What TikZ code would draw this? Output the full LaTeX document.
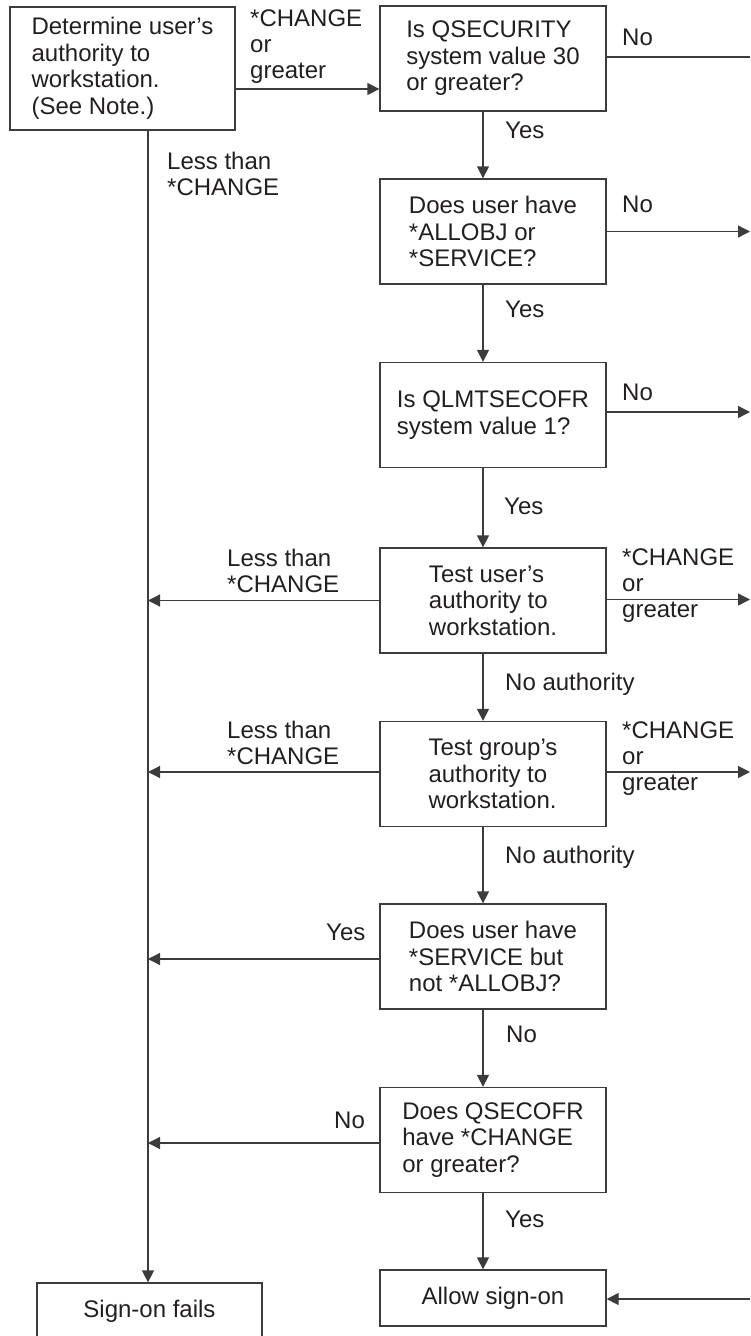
\documentclass[tikz,border=0pt]{standalone}
\usepackage{fontspec}
\setmainfont{Liberation Sans}
\usetikzlibrary{arrows.meta}
\definecolor{linec}{HTML}{3C3C3C}
\definecolor{textc}{HTML}{231F20}
\begin{document}
\begin{tikzpicture}[x=1pt,y=-1pt,
  every node/.style={font=\fontsize{24}{26.5}\selectfont, text=textc, inner sep=0pt},
  box/.style={draw=linec, line width=1.3pt, minimum width=226pt, minimum height=105pt, align=left},
  lbl/.style={anchor=base west, align=left, font=\fontsize{24}{26}\selectfont},
  conn/.style={draw=linec, line width=1.3pt},
  arr/.style={conn, -{Triangle[length=12pt,width=12pt]}}]
\useasboundingbox (0,0) rectangle (750,1336);
\coordinate (R) at (750,0);
% boxes
\node[box, minimum width=225pt, minimum height=123pt] (b1) at (122.5,68.5) {Determine user's\\authority to\\workstation.\\(See Note.)};
\node[box] (b2) at (493,58.5) {Is QSECURITY\\system value 30\\or greater?};
\node[box] (b3) at (493,231.5) {Does user have\\*ALLOBJ or\\*SERVICE?};
\node[box] (b4) at (493,415) {Is QLMTSECOFR\\system value 1?};
\node[box] (b5) at (493,600.5) {Test user's\\authority to\\workstation.};
\node[box] (b6) at (493,774) {Test group's\\authority to\\workstation.};
\node[box] (b7) at (493,956.5) {Does user have\\*SERVICE but\\not *ALLOBJ?};
\node[box] (b8) at (493,1140) {Does QSECOFR\\have *CHANGE\\or greater?};
\node[box, minimum height=56pt] (b9) at (493,1298) {Allow sign-on};
\node[box, minimum width=225pt, minimum height=56pt] (b10) at (149.5,1311) {Sign-on fails};
\coordinate (L) at ([xshift=25.5pt]b1.south);
% connectors
\draw[arr] ([yshift=-20.5pt]b1.east) -- ([yshift=-20.5pt]b1.east -| b2.west);
\draw[arr] (L) -- (L |- b10.north);
\draw[conn] ([yshift=1.5pt]b2.east) -- ([yshift=1.5pt]b2.east -| R);
\draw[arr] (b3.east) -- (b3.east -| R);
\draw[arr] ([yshift=3pt]b4.east) -- ([yshift=3pt]b4.east -| R);
\draw[arr] ([yshift=1pt]b5.east) -- ([yshift=1pt]b5.east -| R);
\draw[arr] ([yshift=2pt]b6.east) -- ([yshift=2pt]b6.east -| R);
\draw[arr] ([yshift=-1pt]b9.east -| R) -- ([yshift=-1pt]b9.east);
\draw[arr] (b5.west) -- (b5.west -| L);
\draw[arr] ([yshift=2pt]b6.west) -- ([yshift=2pt]b6.west -| L);
\draw[arr] ([yshift=-2.5pt]b7.west) -- ([yshift=-2.5pt]b7.west -| L);
\draw[arr] ([yshift=-3pt]b8.west) -- ([yshift=-3pt]b8.west -| L);
\foreach \a/\b in {b2/b3,b3/b4,b4/b5,b5/b6,b6/b7,b7/b8,b8/b9}
  \draw[arr] ([xshift=-10pt]\a.south) -- ([xshift=-10pt]\b.north);
% labels (base = baseline of the last line)
\node[lbl] (t1) at (250,78) {*CHANGE\\or\\greater};
\node[lbl] (t2) at (167,195) {Less than\\*CHANGE};
\node[lbl] (t3) at (622,45) {No};
\node[lbl] (t4) at (505,138) {Yes};
\node[lbl] (t5) at (622,212) {No};
\node[lbl] (t6) at (505,317) {Yes};
\node[lbl] (t7) at (622,400) {No};
\node[lbl] (t8) at (504,514) {Yes};
\node[lbl] (t9) at (227,592) {Less than\\*CHANGE};
\node[lbl] (t10) at (622,617) {*CHANGE\\or\\greater};
\node[lbl] (t11) at (505,690) {No authority};
\node[lbl] (t12) at (227,764) {Less than\\*CHANGE};
\node[lbl] (t13) at (622,790) {*CHANGE\\or\\greater};
\node[lbl] (t14) at (505,863) {No authority};
\node[lbl] (t15) at (326,940) {Yes};
\node[lbl] (t16) at (506,1042) {No};
\node[lbl] (t17) at (334,1128) {No};
\node[lbl] (t18) at (505,1227) {Yes};
\end{tikzpicture}
\end{document}
